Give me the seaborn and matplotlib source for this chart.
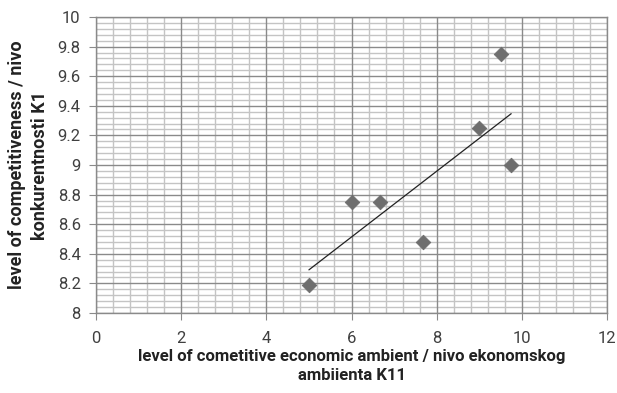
import numpy as np
import pandas as pd
import seaborn as sns
import matplotlib.pyplot as plt
from matplotlib.ticker import MultipleLocator

sns.set_style('white')
plt.rcParams['font.family'] = ['Roboto', 'DejaVu Sans']

# values
ambient = [5, 6, 6.67, 7.67, 9, 9.5, 9.75]
competitiveness = [8.19, 8.75, 8.75, 8.48, 9.25, 9.75, 9.0]
y_ticks = [8, 8.2, 8.4, 8.6, 8.8, 9, 9.2, 9.4, 9.6, 9.8, 10]
y_labels = ['8', '8.2', '8.4', '8.6', '8.8', '9', '9.2', '9.4', '9.6', '9.8', '10']
x_ticks = [0, 2, 4, 6, 8, 10, 12]

df = pd.DataFrame({'x': ambient, 'y': competitiveness})

fig = plt.figure(figsize=(6.17, 3.93), dpi=100)
ax = fig.add_axes([0.1556, 0.2036, 0.8282, 0.7531])

sns.scatterplot(data=df, x='x', y='y', marker='D', s=55, color='#6e6e6e',
                edgecolor='#6e6e6e', ax=ax, zorder=3)

# linear trendline
k, b = np.polyfit(df['x'], df['y'], 1)
xs = np.array([df['x'].min(), df['x'].max()])
ax.plot(xs, k * xs + b, color='#222222', lw=0.9, zorder=4)

ax.set_xlim(0, 12)
ax.set_ylim(8, 10)
ax.set_xticks(x_ticks)
ax.set_yticks(y_ticks)
ax.set_yticklabels(y_labels)
ax.xaxis.set_minor_locator(MultipleLocator(0.4))
ax.yaxis.set_minor_locator(MultipleLocator(0.04))

# minor grid first, major grid drawn over it
ax.grid(which='minor', color='#c4c4c4', lw=1.0)
ax.grid(which='major', visible=False)
for v in x_ticks:
    ax.axvline(v, color='#8a8a8a', lw=1.0, zorder=1)
for v in y_ticks:
    ax.axhline(v, color='#8a8a8a', lw=1.0, zorder=1)
ax.set_axisbelow(True)

for s in ax.spines.values():
    s.set_color('#8a8a8a')
    s.set_linewidth(1.0)

ax.tick_params(which='major', direction='out', length=5, color='#8a8a8a',
               labelsize=12, labelcolor='#404040', left=True, bottom=True)
ax.tick_params(axis='x', which='major', pad=8)
ax.tick_params(axis='y', which='major', pad=6)
ax.tick_params(which='minor', direction='out', length=0)

ax.set_xlabel('level of cometitive economic ambient / nivo ekonomskog\nambiienta K11',
              fontsize=12, fontweight='bold', color='#222222', labelpad=2,
              linespacing=1.35)
ax.set_ylabel('level of competitiveness / nivo\nkonkurentnosti K1',
              fontsize=13, fontweight='bold', color='#222222', labelpad=6,
              linespacing=1.4)

fig.savefig('out.png', dpi=100)
